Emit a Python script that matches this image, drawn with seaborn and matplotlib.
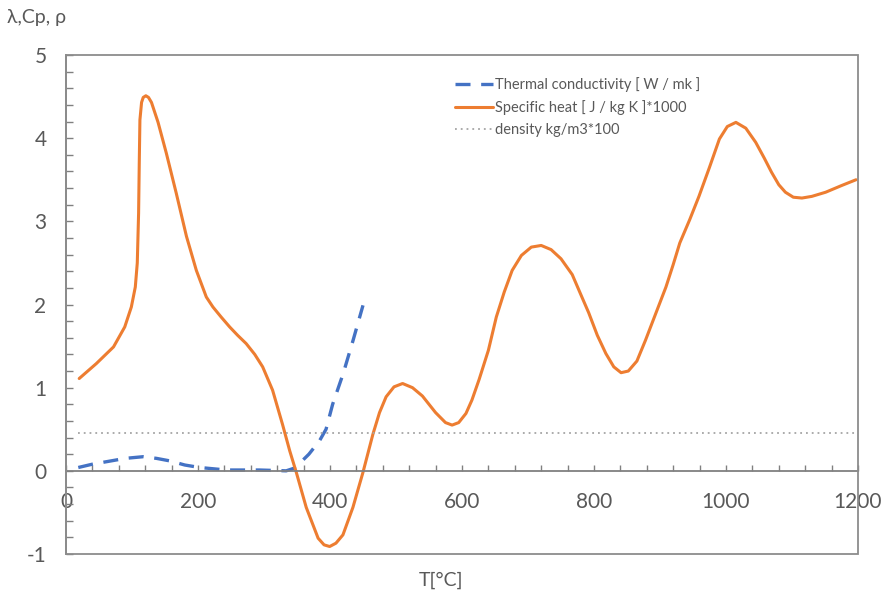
import matplotlib
matplotlib.use("Agg")
import matplotlib.pyplot as plt
import seaborn as sns
import pandas as pd
from matplotlib.patches import Rectangle
from matplotlib.ticker import MultipleLocator

# ---- data ----
cp_T = [20, 46, 72, 89, 99, 105, 108, 110, 111, 112, 114.5, 117, 121, 125, 129.5,
        139.5, 152, 167, 182.5, 197.5, 212.6, 222.6, 235, 248, 260, 273, 286, 298,
        313, 328, 339, 349, 364, 382, 391, 399.5, 409, 419.6, 434.7, 449.9, 465,
        475, 485, 497, 510, 525, 540, 560, 575, 585, 595, 606, 615, 626, 640, 652,
        664, 676, 690, 705, 720, 735, 750, 767, 780, 792, 805, 818, 830, 841, 852,
        865, 878, 893, 909, 920, 930, 945, 959, 975, 990, 1002, 1015, 1030, 1045,
        1058, 1069, 1080, 1090, 1102, 1115, 1130, 1151, 1175, 1197]
cp_v = [1.11, 1.29, 1.49, 1.73, 1.97, 2.21, 2.50, 3.10, 3.70, 4.22, 4.43, 4.49,
        4.51, 4.49, 4.43, 4.19, 3.82, 3.34, 2.82, 2.41, 2.09, 1.97, 1.85, 1.73,
        1.63, 1.53, 1.40, 1.25, 0.97, 0.56, 0.24, -0.02, -0.44, -0.81, -0.89, -0.91,
        -0.87, -0.77, -0.44, -0.02, 0.44, 0.70, 0.89, 1.01, 1.05, 1.00, 0.90, 0.70,
        0.58, 0.55, 0.58, 0.69, 0.85, 1.10, 1.45, 1.85, 2.15, 2.41, 2.59, 2.69,
        2.71, 2.66, 2.55, 2.36, 2.12, 1.90, 1.63, 1.41, 1.25, 1.18, 1.20, 1.32,
        1.57, 1.88, 2.21, 2.48, 2.74, 3.02, 3.30, 3.65, 3.99, 4.14, 4.19, 4.12,
        3.95, 3.76, 3.59, 3.44, 3.35, 3.29, 3.28, 3.30, 3.35, 3.43, 3.50]

lam_T = [18.6, 40, 61.5, 90, 117, 137, 157, 180, 202.5, 243, 293, 333.6, 345, 354,
         368, 384, 394, 404, 420, 435, 450]
lam_v = [0.04, 0.08, 0.11, 0.15, 0.17, 0.15, 0.12, 0.07, 0.04, 0.01, 0.01, 0.0,
         0.03, 0.09, 0.20, 0.36, 0.50, 0.80, 1.17, 1.57, 1.99]

rho_T = [18, 1200]
rho_v = [0.45, 0.45]

labels = ["Thermal conductivity [ W / mk ]",
          "Specific heat [ J / kg K ]*1000",
          "density kg/m3*100"]
x_ticks = [0, 200, 400, 600, 800, 1000, 1200]
y_ticks = [-1, 0, 1, 2, 3, 4, 5]

# ---- style ----
sns.set_style("white")
plt.rcParams["font.family"] = ["Lato", "DejaVu Sans"]
grey_txt = "#595959"
frame_c = "#8c8c8c"

fig = plt.figure(figsize=(8.89, 6.03), dpi=100)
ax = fig.add_axes([66 / 889, 1 - 554 / 603, (858 - 66) / 889, (554 - 55) / 603])

df_lam = pd.DataFrame({"T": lam_T, "v": lam_v})
df_cp = pd.DataFrame({"T": cp_T, "v": cp_v})
df_rho = pd.DataFrame({"T": rho_T, "v": rho_v})

sns.lineplot(data=df_lam, x="T", y="v", ax=ax, color="#4472C4", linewidth=2.4,
             linestyle=(0, (4.5, 3.2)), label=labels[0], sort=False)
sns.lineplot(data=df_cp, x="T", y="v", ax=ax, color="#ED7D31", linewidth=2.2,
             label=labels[1], sort=False)
sns.lineplot(data=df_rho, x="T", y="v", ax=ax, color="#A5A5A5", linewidth=1.3,
             linestyle=(0, (1, 2.2)), label=labels[2], sort=False)
for ln in ax.get_lines():
    ln.set_solid_joinstyle("round")
    ln.set_dash_joinstyle("round")

ax.set_xlim(0, 1200)
ax.set_ylim(-1, 5)

for s in ["top", "right"]:
    ax.spines[s].set_visible(False)
ax.spines["bottom"].set_position(("data", 0))
ax.spines["bottom"].set_color("#808080")
ax.spines["bottom"].set_linewidth(1.3)
ax.spines["left"].set_color("#808080")
ax.spines["left"].set_linewidth(1.3)
ax.add_patch(Rectangle((0, 0), 1, 1, transform=ax.transAxes, fill=False,
                       edgecolor=frame_c, linewidth=1.3, clip_on=False, zorder=5))

ax.set_xticks(x_ticks)
ax.set_xticklabels([str(t) for t in x_ticks])
ax.xaxis.set_minor_locator(MultipleLocator(40))
ax.set_yticks(y_ticks)
ax.set_yticklabels([str(t) for t in y_ticks])
ax.yaxis.set_minor_locator(MultipleLocator(0.2))

ax.tick_params(axis="x", which="both", direction="in", length=4, width=1,
               color="#808080", labelsize=15, labelcolor=grey_txt, pad=15,
               bottom=True)
ax.tick_params(axis="y", which="both", direction="in", length=5, width=1,
               color="#808080", labelsize=15, labelcolor=grey_txt, pad=14,
               left=True)

ax.set_xlabel("")
ax.set_ylabel("")
fig.text(441 / 889, 1 - 580 / 603, "T[°C]", ha="center", va="center",
         fontsize=14, color=grey_txt)
fig.text(7 / 889, 1 - 17 / 603, "λ,Cp, ρ", ha="left", va="center",
         fontsize=14, color=grey_txt)

leg = ax.legend(loc="upper left", bbox_to_anchor=(0.491, 0.956), frameon=False,
                fontsize=10.5, handlelength=2.6, handletextpad=0.15,
                labelspacing=0.57, borderaxespad=0, borderpad=0)
for t in leg.get_texts():
    t.set_color(grey_txt)

fig.savefig("out.png", dpi=100)
